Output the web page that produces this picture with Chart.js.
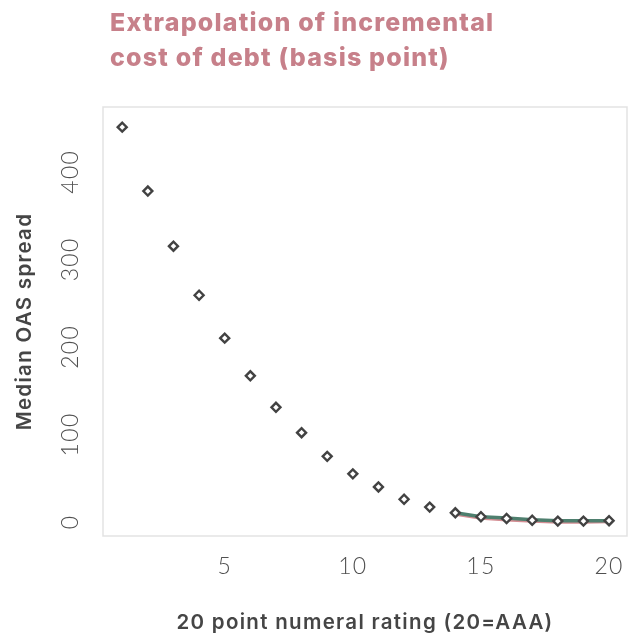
<!DOCTYPE html>
<html>
<head>
<meta charset="utf-8">
<script src="https://cdn.jsdelivr.net/npm/chart.js@4.4.0/dist/chart.umd.min.js"></script>
<style>
    body { margin: 0; background: #ffffff; }
    #wrap { width: 635px; height: 641px; }
</style>
</head>
<body>
<div id="wrap"><canvas id="oas_chart" width="635" height="641"></canvas></div>
<script>
// ratings 1..20 and median OAS spread
const ratings = [1, 2, 3, 4, 5, 6, 7, 8, 9, 10, 11, 12, 13, 14, 15, 16, 17, 18, 19, 20];
const spreads = [451, 378, 315, 259, 210, 167, 131, 102, 75, 55, 40, 26, 17, 10.5, 6, 4, 2, 1, 1, 1.5];

// fitted (green) and extrapolated (red) curves on the high ratings
const fitRatings = [14, 15, 16, 17, 18, 19, 20];
const fitValues = [10.5, 6, 4.5, 2.5, 1.5, 1.5, 1.5];
const extrapValues = [9, 4.5, 2.5, 1, 0, 0, 0.5];

const xTickValues = [5, 10, 15, 20];
const yTickValues = [0, 100, 200, 300, 400];

const titleLines = ['Extrapolation of incremental', 'cost of debt (basis point)'];
const xTitle = '20 point numeral rating (20=AAA)';
const yTitle = 'Median OAS spread';

function toPoints(xs, ys) {
    return xs.map(function (x, i) {
        return {x: x, y: ys[i]};
    });
}

function fixedTicks(values) {
    return function (scale) {
        scale.ticks = values.map(function (v) {
            return {value: v};
        });
    };
}

// title text and frame round the plot area
const chartDecor = {
    id: 'chartDecor',
    beforeDraw: function (chart) {
        let ctx = chart.ctx;
        let area = chart.chartArea;
        ctx.letterSpacing = '1.3px';
        ctx.save();
        ctx.strokeStyle = '#e3e3e3';
        ctx.lineWidth = 1.5;
        ctx.strokeRect(area.left, area.top, area.right - area.left, area.bottom - area.top);
        ctx.restore();
    },
    afterDraw: function (chart) {
        let ctx = chart.ctx;
        ctx.save();
        ctx.fillStyle = '#c7808a';
        ctx.font = '800 25px Inter';
        ctx.letterSpacing = '1.2px';
        ctx.textBaseline = 'alphabetic';
        ctx.fillText(titleLines[0], 110, 31);
        ctx.fillText(titleLines[1], 110, 66);
        ctx.restore();
    }
};

new Chart(document.getElementById('oas_chart'), {
    type: 'scatter',
    data: {
        datasets: [
            {
                label: 'Median OAS spread',
                data: toPoints(ratings, spreads),
                showLine: false,
                pointStyle: 'rectRot',
                pointRadius: 4.5,
                pointBorderWidth: 2.4,
                pointBorderColor: '#424242',
                pointBackgroundColor: '#ffffff'
            },
            {
                label: 'Fit',
                data: toPoints(fitRatings, fitValues),
                showLine: true,
                borderColor: '#4e7f6e',
                borderWidth: 3.5,
                pointRadius: 0
            },
            {
                label: 'Extrapolation',
                data: toPoints(fitRatings, extrapValues),
                showLine: true,
                borderColor: '#d48d93',
                borderWidth: 3.5,
                pointRadius: 0
            }
        ]
    },
    options: {
        responsive: false,
        animation: false,
        layout: {
            padding: {top: 107, right: 8, bottom: 0, left: 0}
        },
        plugins: {
            legend: {display: false},
            tooltip: {enabled: false},
            title: {display: false}
        },
        scales: {
            x: {
                type: 'linear',
                min: 0.25,
                max: 20.7,
                grid: {display: false},
                border: {display: false},
                afterBuildTicks: fixedTicks(xTickValues),
                ticks: {
                    padding: 9,
                    color: '#505050',
                    font: {family: 'Lato', size: 23, weight: '300'}
                },
                title: {
                    display: true,
                    text: xTitle,
                    color: '#454545',
                    padding: {top: 0, bottom: 6},
                    font: {family: 'Inter', size: 20.5, weight: '600'}
                },
                afterFit: function (scale) {
                    scale.height = 105;
                }
            },
            y: {
                min: -16,
                max: 474,
                grid: {display: false},
                border: {display: false},
                afterBuildTicks: fixedTicks(yTickValues),
                ticks: {
                    minRotation: 90,
                    maxRotation: 90,
                    crossAlign: 'center',
                    padding: 4,
                    color: '#505050',
                    font: {family: 'Lato', size: 23, weight: '300'}
                },
                title: {
                    display: true,
                    text: yTitle,
                    color: '#454545',
                    padding: {top: 13, bottom: 0},
                    font: {family: 'Inter', size: 20.5, weight: '600'}
                },
                afterFit: function (scale) {
                    scale.width = 103;
                }
            }
        }
    },
    plugins: [chartDecor]
});
</script>
</body>
</html>
